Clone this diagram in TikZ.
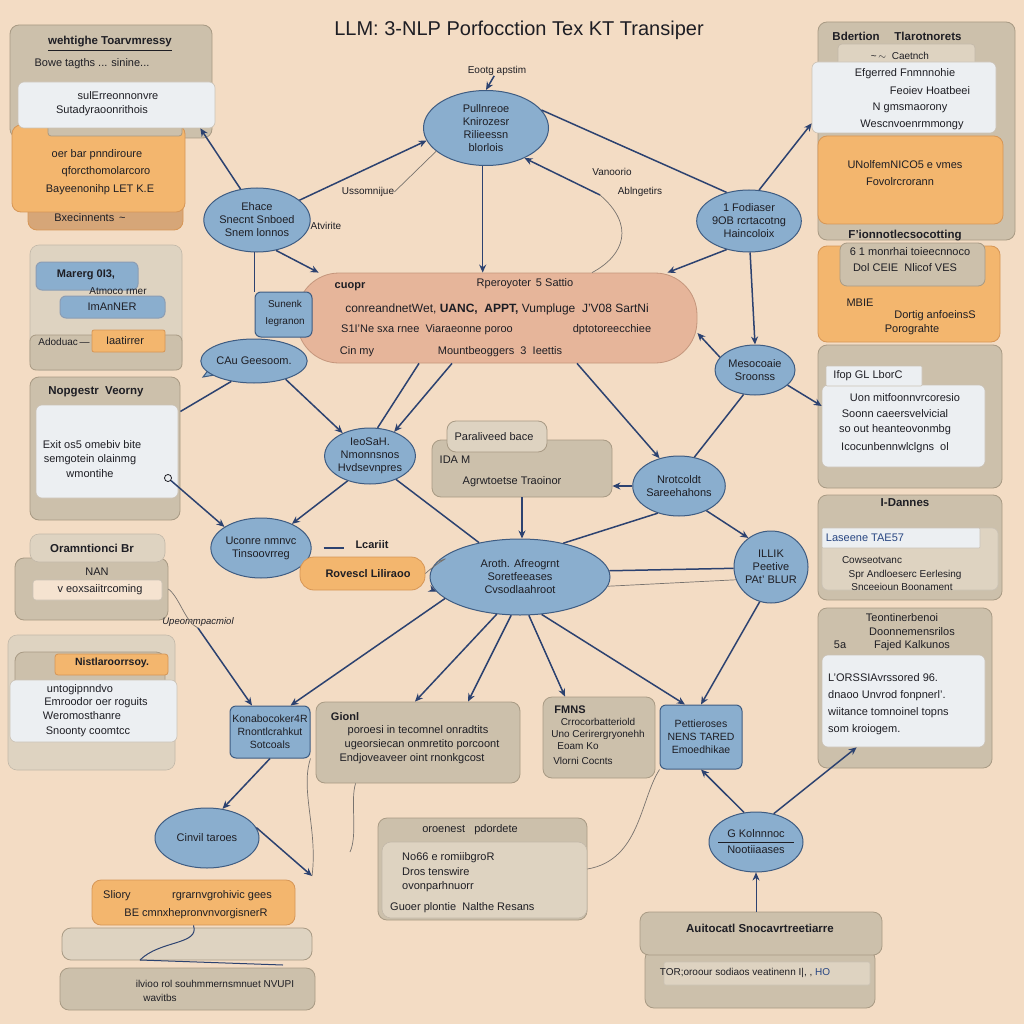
\documentclass[tikz,border=0pt]{standalone}
\usepackage{fontspec}
\setmainfont{Liberation Sans}
\usetikzlibrary{arrows.meta,shapes.geometric}
\definecolor{bg}{RGB}{243,220,196}
\definecolor{ink}{RGB}{30,30,36}
\definecolor{navy}{RGB}{44,66,112}
\definecolor{blueF}{RGB}{138,174,206}
\definecolor{blueD}{RGB}{62,92,130}
\definecolor{tanF}{RGB}{204,192,171}
\definecolor{tanD}{RGB}{168,154,132}
\definecolor{tanL}{RGB}{222,211,193}
\definecolor{whF}{RGB}{236,239,242}
\definecolor{orF}{RGB}{243,182,110}
\definecolor{orD}{RGB}{214,150,86}
\definecolor{salF}{RGB}{230,181,154}
\definecolor{salD}{RGB}{196,150,124}
\definecolor{brF}{RGB}{214,166,120}
\definecolor{gline}{RGB}{120,115,110}
\definecolor{blueT}{RGB}{40,70,130}
\newcommand\rb[6]{\node[#1,minimum width={(#4)-(#2)},minimum height={(#5)-(#3)}] (#6) at ({((#2)+(#4))/2},{((#3)+(#5))/2}) {};}
\begin{document}
\begin{tikzpicture}[x=1pt,y=-1pt,
 tx/.style={font=\fontsize{11}{13}\selectfont,text=ink,inner sep=0pt,align=center},
 txs/.style={font=\fontsize{10}{12}\selectfont,text=ink,inner sep=0pt,align=center},
 hd/.style={font=\fontsize{11.5}{13}\selectfont\bfseries,text=ink,inner sep=0pt},
 tanbox/.style={draw=tanD,fill=tanF,rounded corners=9pt,line width=0.8pt,inner sep=0pt},
 ltbox/.style={draw=tanD!70,fill=tanL,rounded corners=9pt,line width=0.6pt,inner sep=0pt},
 whbox/.style={draw=tanD!60,fill=whF,rounded corners=6pt,line width=0.6pt,inner sep=0pt},
 orbox/.style={draw=orD,fill=orF,rounded corners=9pt,line width=0.8pt,inner sep=0pt},
 brbox/.style={draw=orD,fill=brF,rounded corners=9pt,line width=0.8pt,inner sep=0pt},
 salbox/.style={draw=salD,fill=salF,rounded corners=42pt,line width=0.8pt,inner sep=0pt},
 bell/.style={ellipse,draw=blueD,fill=blueF,line width=1pt,inner sep=0pt,align=center,font=\fontsize{11}{13}\selectfont,text=ink},
 bbox/.style={rectangle,rounded corners=6pt,draw=blueD,fill=blueF,line width=1pt,inner sep=0pt,align=center,font=\fontsize{10.5}{13}\selectfont,text=ink},
 conn/.style={draw=navy,line width=1.5pt,-{Stealth[length=8pt,width=7pt]}},
 lin/.style={draw=navy,line width=1.5pt},
 thin/.style={draw=gline,line width=0.7pt},
]
\fill[bg] (0,0) rectangle (1024,1024);
\useasboundingbox (0,0) rectangle (1024,1024);

% ---------- title ----------
\node[inner sep=0pt,text=ink,font=\fontsize{20}{24}\selectfont] (title) at (519,30) {LLM: 3-NLP Porfocction Tex KT Transiper};
\node[txs] (sub) at (497,71) {Eootg apstim};

% ---------- left column ----------
% box A
\rb{brbox}{28}{200}{183}{230}{Abot}
\rb{tanbox}{10}{25}{212}{138}{A}
\rb{orbox}{12}{125}{185}{212}{Aor}
\rb{tanbox,rounded corners=3pt}{48}{124}{182}{136}{Astrip}
\rb{whbox}{18}{82}{215}{128}{Aw}
\node[hd] (a1) at (110,42) {wehtighe Toarvmressy};
\draw[ink,line width=0.8pt] ([yshift=-3pt]a1.south west) -- ([yshift=-3pt]a1.south east);
\node[tx] (a2) at (92,64) {Bowe tagths ... sinine...};
\node[tx] (a3) at (118,96) {sulErreonnonvre};
\node[tx] (a4) at (102,111) {Sutadyraoonrithois};
\node[tx] (a5) at (97,155) {oer bar pnndiroure};
\node[tx] (a6) at (106,172) {qforcthomolarcoro};
\node[tx] (a7) at (100,190) {Bayeenonihp LET K.E};
\node[tx] (a8) at (90,218) {Bxecinnents \,\textasciitilde};

% box B
\rb{ltbox}{30}{245}{182}{370}{B}
\rb{tanbox,rounded corners=6pt}{30}{335}{182}{370}{Bbot}
\rb{bbox,draw=blueD!60}{36}{262}{138}{290}{Bb1}
\rb{bbox,draw=blueD!60}{60}{296}{165}{318}{Bb2}
\rb{orbox,rounded corners=2pt}{92}{330}{165}{352}{Bor}
\node[tx,font=\fontsize{11}{13}\selectfont\bfseries] (b1) at (86,275) {Marerg 0I3,};
\node[txs] (b2) at (118,291) {Atmoco rmer};
\node[tx] (b3) at (112,307) {ImAnNER};
\node[tx] (b4) at (125,341) {Iaatirrer};
\node[txs] (b5) at (64,342) {Adoduac\,---};

% box C
\rb{tanbox}{30}{377}{180}{520}{C}
\rb{whbox}{36}{405}{178}{498}{Cw}
\node[hd] (c1) at (96,392) {Nopgestr \ Veorny};
\node[tx] (c2) at (92,445) {Exit os5 omebiv bite};
\node[tx] (c3) at (90,460) {semgotein olainmg};
\node[tx] (c4) at (90,474) {wmontihe};
\node[draw=ink,circle,inner sep=2.5pt,line width=0.8pt] (cc) at (168,478) {};

% box D
\rb{tanbox}{15}{558}{168}{620}{D}
\rb{ltbox}{30}{534}{165}{562}{Dt}
\rb{whbox,fill=bg!80!white,rounded corners=3pt}{33}{580}{162}{600}{Dbar}
\node[hd] (d1) at (92,548) {Oramntionci Br};
\node[tx] (d2) at (97,572) {NAN};
\node[tx] (d3) at (100,590) {v eoxsaiitrcoming};
\node[txs,font=\fontsize{9.5}{11}\selectfont\itshape] (dl) at (198,622) {Upeommpacmiol};
\coordinate (dmid) at (198,628);

% box E
\rb{ltbox}{8}{635}{175}{770}{E}
\rb{tanbox}{15}{652}{165}{690}{Et}
\rb{orbox,rounded corners=3pt}{55}{654}{168}{675}{Eor}
\rb{whbox}{10}{680}{177}{742}{Ew}
\node[hd,font=\fontsize{10.5}{12}\selectfont\bfseries] (e1) at (112,663) {Nistlaroorrsoy.};
\node[tx] (e2) at (80,690) {untogipnndvo};
\node[tx] (e3) at (96,703) {Emroodor oer roguits};
\node[tx] (e4) at (82,716) {Weromosthanre};
\node[tx] (e5) at (88,732) {Snoonty coomtcc};

% box F
\rb{tanbox,fill=tanL}{62}{928}{312}{960}{Ft}
\rb{tanbox}{60}{968}{315}{1010}{Fb}
\rb{orbox}{92}{880}{295}{925}{F}
\node[tx] (f1) at (117,896) {Sliory};
\node[tx] (f2) at (222,896) {rgrarnvgrohivic gees};
\node[tx] (f3) at (196,914) {BE cmnxhepronvnvorgisnerR};
\node[txs] (f4) at (215,984) {ilvioo rol souhmmernsmnuet NVUPI};
\node[txs] (f5) at (160,998) {wavitbs};
\coordinate (fp1) at (140,960);
\coordinate (fp2) at (283,965);
\draw[navy,line width=1pt] (fp1) -- (fp2);
\draw[navy,line width=1pt] (fp1) .. controls (160,940) and (200,945) .. (F.south);

% ---------- right column ----------
% box I
\rb{tanbox}{818}{22}{1015}{240}{I}
\rb{orbox}{818}{136}{1003}{224}{Ior}
\rb{ltbox,rounded corners=4pt}{838}{44}{975}{66}{Is}
\rb{whbox}{812}{62}{996}{133}{Iw}
\node[hd] (i1) at (897,36) {Bdertion \quad Tlarotnorets};
\node[txs] (i2) at (900,56) {\textasciitilde\,$\sim$\ \ Caetnch};
\node[tx] (i3) at (905,74) {Efgerred Fnmnnohie};
\node[tx] (i4) at (930,91) {Feoiev Hoatbeei};
\node[tx] (i5) at (910,108) {N gmsmaorony};
\node[tx] (i6) at (912,125) {Wescnvoenrmmongy};
\node[tx] (i7) at (905,165) {UNolfemNICO5 e vmes};
\node[tx] (i8) at (900,182) {Fovolrcrorann};
\node[hd] (i9) at (905,236) {F'ionnotlecsocotting};

% box J
\rb{orbox}{818}{246}{1000}{342}{J}
\rb{tanbox,rounded corners=7pt}{840}{243}{985}{286}{Jt}
\node[tx] (j1) at (910,252) {6 1 monrhai toieecnnoco};
\node[tx] (j2) at (905,268) {Dol CEIE \ Nlicof VES};
\node[tx] (j3) at (860,303) {MBIE};
\node[tx] (j4) at (935,316) {Dortig anfoeinsS};
\node[tx] (j5) at (912,330) {Porograhte};

% box K
\rb{tanbox}{818}{345}{1002}{488}{K}
\rb{whbox}{822}{385}{985}{467}{Kw}
\rb{whbox,rounded corners=1pt}{826}{366}{922}{386}{Kt}
\node[tx] (k1) at (868,376) {Ifop GL LborC};
\node[tx] (k2) at (905,398) {Uon mitfoonnvrcoresio};
\node[tx] (k3) at (895,414) {Soonn caeersvelvicial};
\node[tx] (k4) at (895,430) {so out heanteovonmbg};
\node[tx] (k5) at (895,448) {Icocunbennwlclgns \ ol};

% box L
\rb{tanbox}{818}{495}{1002}{600}{L}
\rb{whbox,fill=tanL}{822}{528}{998}{590}{Lw}
\rb{whbox,rounded corners=1pt}{822}{528}{980}{548}{Lt}
\node[hd] (l1) at (905,503) {I-Dannes};
\node[tx,text=blueT] (l2) at (865,538) {Laseene TAE57};
\node[txs] (l3) at (872,560) {Cowseotvanc};
\node[txs] (l4) at (905,575) {Spr Andloeserc Eerlesing};
\node[txs] (l5) at (902,587) {Snceeioun Boonament};

% box M
\rb{tanbox}{818}{608}{992}{768}{M}
\rb{whbox}{822}{655}{985}{747}{Mw}
\node[tx] (m1) at (902,618) {Teontinerbenoi};
\node[tx] (m2) at (912,632) {Doonnemensrilos};
\node[tx] (m3) at (912,646) {Fajed Kalkunos};
\node[tx] (m4) at (840,645) {5a};
\node[tx,anchor=west] (m5) at (828,678) {L'ORSSIAvrssored 96.};
\node[tx,anchor=west] (m6) at (828,696) {dnaoo Unvrod fonpnerl'.};
\node[tx,anchor=west] (m7) at (828,713) {wiitance tomnoinel topns};
\node[tx,anchor=west] (m8) at (828,730) {som kroiogem.};

% ---------- bottom boxes ----------
% box G
\rb{tanbox}{378}{818}{587}{920}{G}
\rb{ltbox}{382}{842}{587}{918}{Gw}
\node[tx] (g1) at (470,830) {oroenest \ \ pdordete};
\node[tx,anchor=west] (g2) at (402,858) {No66 e romiibgroR};
\node[tx,anchor=west] (g3) at (402,872) {Dros tenswire};
\node[tx,anchor=west] (g4) at (402,887) {ovonparhnuorr};
\node[tx,anchor=west] (g5) at (390,908) {Guoer plontie \ Nalthe Resans};

% box H
\rb{tanbox}{645}{950}{875}{1008}{Hb}
\rb{tanbox}{640}{912}{882}{955}{H}
\rb{whbox,fill=tanL,rounded corners=2pt}{664}{962}{870}{985}{Hw}
\node[hd] (h1) at (760,928) {Auitocatl Snocavrtreetiarre};
\node[txs] (h2) at (745,973) {TOR;oroour sodiaos veatinenn I|, , \textcolor{blueT}{HO}};

% ---------- centre ----------
\rb{salbox}{297}{273}{697}{363}{Sal}
\node[tx,font=\fontsize{11}{13}\selectfont\bfseries] (s1) at (350,287) {cuopr};
\node[tx] (s2) at (525,284) {Rperoyoter \,5 Sattio};
\node[tx,font=\fontsize{12}{14}\selectfont] (s3) at (497,309) {conreandnetWet, \textbf{UANC, \ APPT,} Vumpluge \ J'V08 SartNi};
\node[tx] (s4) at (427,330) {S1I'Ne sxa rnee \ Viaraeonne poroo};
\node[tx] (s5) at (612,330) {dptotoreecchiee};
\node[tx] (s6) at (357,352) {Cin my};
\node[tx] (s7) at (500,352) {Mountbeoggers \ 3 \ Ieettis};

\node[bell,minimum width=125,minimum height=75] (N1) at (486,128) {Pullnreoe\\Knirozesr\\Rilieessn\\blorlois};
\node[bell,minimum width=94,minimum height=64] (N2) at (257,220) {Ehace\\Snecnt Snboed\\Snem lonnos};
\node[bell,minimum width=102,minimum height=62] (N3) at (749,221) {1 Fodiaser\\9OB rcrtacotng\\Haincoloix};
\rb{bbox}{255}{292}{312}{337}{N4}
\node[txs] (n4a) at (285,304) {Sunenk};
\node[txs] (n4b) at (285,322) {Iegranon};
\fill[blueF,draw=blueD,line width=1pt] (222,352) -- (203,377) -- (232,372) -- cycle;
\node[bell,minimum width=92,minimum height=44] (N5) at (254,361) {CAu Geesoom.};
\node[bell,minimum width=80,minimum height=50] (N6) at (755,370) {Mesocoaie\\Sroonss};
\node[bell,minimum width=90,minimum height=56] (N7) at (370,456) {IeoSaH.\\Nmonnsnos\\Hvdsevnpres};
\rb{tanbox}{432}{440}{612}{497}{N8}
\rb{tanbox,fill=tanL}{447}{421}{547}{452}{N8t}
\node[tx] (n8a) at (494,437) {Paraliveed bace};
\node[tx] (n8b) at (455,460) {IDA M};
\node[tx] (n8c) at (512,482) {Agrwtoetse Traoinor};
\node[bell,minimum width=84,minimum height=60] (N9) at (679,486) {Nrotcoldt\\Sareehahons};
\node[bell,minimum width=98,minimum height=60] (N10) at (261,548) {Uconre nmnvc\\Tinsoovrreg};
\rb{orbox,rounded corners=14pt}{300}{557}{425}{590}{Tag}
\node[tx,font=\fontsize{11}{13}\selectfont\bfseries] (tag1) at (368,574) {Rovescl Liliraoo};
\node[tx,font=\fontsize{11}{13}\selectfont\bfseries] (lc) at (372,545) {Lcariit};
\node[bell,minimum width=180,minimum height=76] (N11) at (520,577) {Aroth. Afreogrnt\\Soretfeeases\\Cvsodlaahroot};
\node[bell,minimum width=74,minimum height=72] (N12) at (771,567) {ILLIK\\Peetive\\PAt' BLUR};
\node[bbox,minimum width=80,minimum height=52] (N13) at (270,732) {Konabocoker4R\\Rnontlcrahkut\\Sotcoals};
\rb{tanbox}{316}{702}{520}{783}{N14}
\node[tx,font=\fontsize{11}{13}\selectfont\bfseries] (n14a) at (345,717) {Gionl};
\node[tx] (n14b) at (418,731) {poroesi in tecomnel onradtits};
\node[tx] (n14c) at (422,745) {ugeorsiecan onmretito porcoont};
\node[tx] (n14d) at (412,759) {Endjoveaveer oint rnonkgcost};
\rb{tanbox}{543}{697}{655}{778}{N15}
\node[tx,font=\fontsize{11}{13}\selectfont\bfseries] (n15a) at (570,710) {FMNS};
\node[txs] (n15b) at (598,722) {Crrocorbatteriold};
\node[txs] (n15c) at (598,735) {Uno Cerirergryonehh};
\node[txs] (n15d) at (578,746) {Eoam Ko};
\node[txs] (n15e) at (583,761) {Vlorni Cocnts};
\node[bbox,minimum width=82,minimum height=64] (N16) at (701,737) {Pettieroses\\NENS TARED\\Emoedhikae};
\node[bell,minimum width=104,minimum height=60] (N17) at (207,838) {Cinvil taroes};
\node[bell,minimum width=94,minimum height=60] (N18) at (756,842) {G Kolnnnoc\\[3pt]Nootiiaases};
\draw[ink,line width=0.6pt] ([xshift=-38pt]N18.center) -- ([xshift=38pt]N18.center);

% edge labels
\node[txs] (el1) at (368,192) {Ussomnijue};
\node[txs] (el2) at (326,226) {Atvirite};
\node[txs] (el3) at (612,172) {Vanoorio};
\node[txs] (el4) at (640,192) {Ablngetirs};

% ---------- connectors ----------
\draw[conn] (sub) -- (N1.north);
\draw[conn] (N2.118) -- ([xshift=-15pt]Aw.south east);
\draw[conn] (N2.25) -- (N1.192);
\draw[lin] (N1.18) -- (N3.128);
\draw[conn] (N3.72) -- ([yshift=10pt]Iw.south west);
\draw[conn] (N1.265) -- (N1.265 |- Sal.north);
\draw[lin] (N2.266) -- (N2.266 |- N4.north);
\draw[conn] (N2.302) -- ([xshift=22pt]Sal.north west);
\draw[conn] (N3.232) -- ([xshift=-30pt]Sal.north east);
\draw[conn] (N3.272) -- (N6.north);
\draw[conn] (N6.160) -- ([yshift=-15pt]Sal.east);
\draw[conn] (N6.335) -- ([yshift=20pt]Kw.west);
\draw[lin] (N6.245) -- (N9.62);
\draw[conn] ([xshift=80pt]Sal.south) -- (N9.125);
\draw[conn] (N5.330) -- (N7.140);
\draw[lin] ([xshift=-78pt]Sal.south) -- (N7.75);
\draw[conn] ([xshift=-45pt]Sal.south) -- (N7.45);
\draw[lin] (N5.222) -- ([yshift=37pt]C.east);
\draw[conn] (cc) -- (N10.150);
\draw[conn] (N7.228) -- (N10.38);
\draw[lin] (N7.318) -- (N11.140);
\draw[conn] (N8.south) -- (N8.south |- N11.north);
\draw[conn] (N9.180) -- (N9.180 -| N8.east);
\draw[lin] (N9.232) -- (N11.38);
\draw[conn] (N9.318) -- (N12.128);
\draw[lin] (N11.4) -- (N12.182);
\draw[thin] (N11.354) -- (N12.200);
\draw[conn] (N12.252) -- (N16.north);
\draw[conn] (N11.300) -- ([xshift=-16pt]N16.north);
\draw[conn] (N11.283) -- ([xshift=-34pt]N15.north);
\draw[conn] (N11.257) -- ([xshift=50pt]N14.north);
\draw[conn] (N11.238) -- ([xshift=-3pt]N14.north);
\draw[conn] (N11.196) -- ([xshift=-20pt]N13.north east);
\draw[lin] ([xshift=12pt]N10.east) -- ([xshift=32pt]N10.east);
\draw[thin] (Tag.east) .. controls (440,560) and (455,555) .. (N11.170);
\draw[conn] ([xshift=8pt]Tag.south east) -- (N11.190);
\draw[thin] (D.east) .. controls (180,598) and (185,622) .. (dmid);
\draw[conn] (dmid) -- ([xshift=-18pt]N13.north);
\draw[conn] (N13.south) -- (N17.62);
\coordinate (e17) at (312,876);
\draw[conn] (N17.12) -- (e17);
\draw[thin] (N13.south east) .. controls (300,790) and (318,830) .. (e17);
\coordinate (e14) at (350,852);
\draw[thin] ([xshift=40pt]N14.south west) .. controls (350,800) and (358,835) .. (e14);
\draw[conn] (N18.112) -- (N16.south);
\draw[conn] (N18.58) -- ([xshift=35pt]Mw.south west);
\draw[thin,-{Stealth[length=8pt,width=7pt]},navy] (H.north -| N18.south) -- (N18.south);
\draw[thin] (G.east) .. controls (640,860) and (640,800) .. (N16.south west);
\coordinate (k1) at (600,195);
\draw[conn] (k1) -- (N1.322);
\draw[thin] (k1) .. controls (635,225) and (625,255) .. ([xshift=95pt]Sal.north);
\draw[thin] (el1.east) -- (N1.205);
\end{tikzpicture}
\end{document}
